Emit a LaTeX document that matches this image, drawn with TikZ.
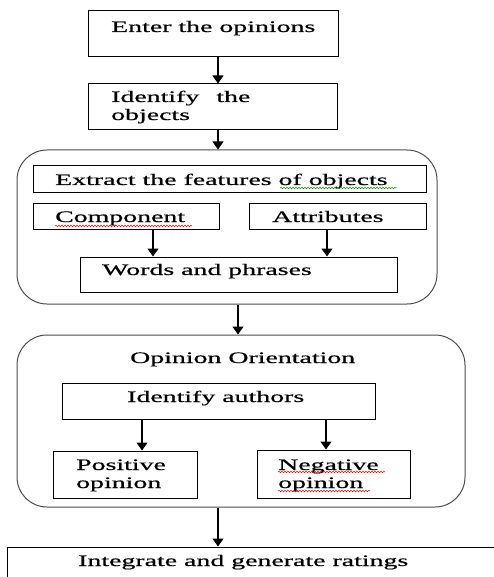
\documentclass[tikz,border=0pt]{standalone}
\usepackage{fontspec}
\setmainfont{Liberation Serif}[FakeStretch=1.74, FakeBold=0.6]
\usetikzlibrary{arrows.meta,decorations.pathmorphing}

\begin{document}
\begin{tikzpicture}[
	x = 1pt, y = -1pt,
	box/.style = {draw, line width = 1pt, inner sep = 0},
	group/.style = {draw = black!70, line width = 1pt, rounded corners = 30pt, inner sep = 0},
	txt/.style = {anchor = base west, inner sep = 0, align = left, font = \fontsize{16}{18}\selectfont},
	arr/.style = {line width = 1.3pt, -{Triangle[width = 11pt, length = 8pt]}},
	typo/.style = {line width = 0.5pt, decorate, decoration = {snake, amplitude = 0.7pt, segment length = 3pt}}
	]

	\useasboundingbox (0,0) rectangle (494,577);
	\clip (0,0) rectangle (494,577);

	\node[box, minimum width = 250pt, minimum height = 46pt] (enter) at (213,34) {};
	\node[txt] (enter-t) at (111,32) {Enter the opinions};

	\node[box, minimum width = 249pt, minimum height = 46pt] (ident) at (212.5,107) {};
	\node[txt] (ident-t) at (111,120) {Identify\hspace{17pt}the\\objects};

	\node[group, minimum width = 420pt, minimum height = 154pt] (feat) at (227,227) {};
	\node[box, minimum width = 393pt, minimum height = 27pt] (extract) at (229.5,179.5) {};
	\node[txt] (extract-t) at (55,185) {Extract the features of objects};
	\node[box, minimum width = 186pt, minimum height = 26pt] (comp) at (126,216) {};
	\node[txt] (comp-t) at (55,222) {Component};
	\node[box, minimum width = 177pt, minimum height = 26pt] (attr) at (337.5,216) {};
	\node[txt] (attr-t) at (272,222) {Attributes};
	\node[box, minimum width = 317pt, minimum height = 35pt] (words) at (238.5,274.5) {};
	\node[txt] (words-t) at (102,275) {Words and phrases};

	\node[group, minimum width = 448pt, minimum height = 172pt] (orient) at (241,421) {};
	\node[txt] (orient-t) at (130,363) {Opinion Orientation};
	\node[box, minimum width = 313pt, minimum height = 36pt] (auth) at (218.5,401) {};
	\node[txt] (auth-t) at (127,402) {Identify authors};
	\node[box, minimum width = 144pt, minimum height = 47pt] (pos) at (125,474.5) {};
	\node[txt] (pos-t) at (76,488) {Positive\\opinion};
	\node[box, minimum width = 153pt, minimum height = 48pt] (neg) at (333.5,474) {};
	\node[txt] (neg-t) at (278,488) {Negative\\opinion};

	\node[box, minimum width = 493pt, minimum height = 60pt] (integ) at (253.5,577) {};
	\node[txt] (integ-t) at (78,566) {Integrate and generate ratings};

	\draw[arr] ([xshift = 5pt]enter.south) -- ([xshift = 5pt]enter.south |- ident.north);
	\draw[arr] ([xshift = 5.5pt]ident.south) -- ([xshift = 5.5pt]ident.south |- feat.north);
	\draw[arr] ([xshift = 27pt]comp.south) -- ([xshift = 27pt]comp.south |- words.north);
	\draw[arr] ([xshift = -10.5pt]attr.south) -- ([xshift = -10.5pt]attr.south |- words.north);
	\draw[arr] ([xshift = 11pt]feat.south) -- ([xshift = 11pt]feat.south |- orient.north);
	\draw[arr] ([xshift = -76.5pt]auth.south) -- ([xshift = -76.5pt]auth.south |- pos.north);
	\draw[arr] ([xshift = 107.5pt]auth.south) -- ([xshift = 107.5pt]auth.south |- neg.north);
	\draw[arr] ([xshift = -23pt]orient.south) -- ([xshift = -23pt]orient.south |- integ.north);

	\draw[typo, green!60!black] (280,188) -- (397,188);
	\draw[typo, red] (55,226) -- (192,226);
	\draw[typo, red] (278,472) -- (385,472);
	\draw[typo, red] (278,491) -- (370,491);

\end{tikzpicture}
\end{document}
